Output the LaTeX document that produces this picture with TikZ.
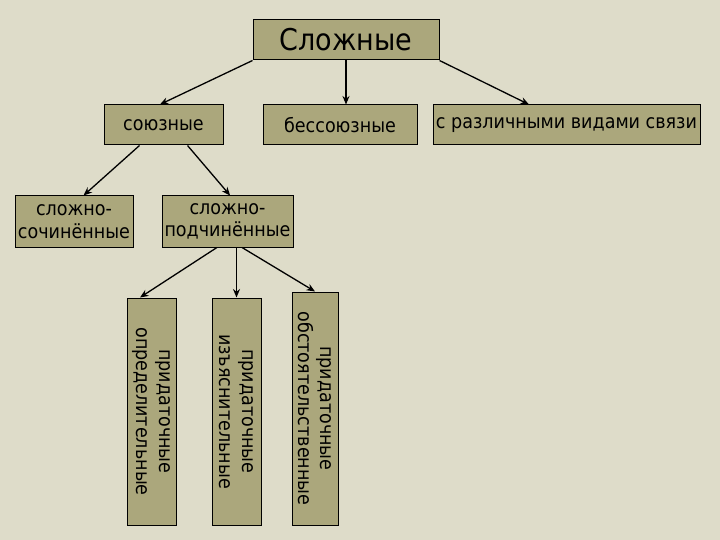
\documentclass[tikz,border=0pt]{standalone}
\usepackage{fontspec}
\setmainfont{DejaVu Sans Condensed}
\usetikzlibrary{arrows.meta,calc}
\definecolor{slidebg}{RGB}{222,220,201}
\definecolor{boxfill}{RGB}{171,167,124}

\begin{document}
\begin{tikzpicture}[x=1pt,y=-1pt,
  box/.style={draw=black,line width=1pt,fill=boxfill,inner sep=0pt,
    font=\fontsize{19.5}{22.5}\selectfont,align=center},
  vbox/.style={box,rotate=-90},
  arr/.style={line width=1.3pt,-{Stealth[length=8.5pt,width=7pt]}}]
  % background (fixes the page size)
  \fill[slidebg] (0,0) rectangle (720,540);
  \useasboundingbox (0,0) rectangle (720,540);
  % top
  \node[box,minimum width=186,minimum height=40,font=\fontsize{30}{34}\selectfont] (slozh) at (346,40) {Сложные};
  % second row
  \node[box,minimum width=119,minimum height=40] (sojuz) at (163.5,125) {союзные};
  \node[box,minimum width=154,minimum height=40] (bessojuz) at (340,125) {бессоюзные};
  \node[box,minimum width=267,minimum height=40] (razl) at (566.5,125) {с различными видами связи};
  % third row
  \node[box,minimum width=118,minimum height=51] (soch) at (74,221.5) {сложно-\\сочинённые};
  \node[box,minimum width=131,minimum height=51] (podch) at (227.5,221.5) {сложно-\\подчинённые};
  % vertical boxes
  \node[vbox,minimum width=227,minimum height=49] (opred) at (151.5,411.5) {придаточные\\определительные};
  \node[vbox,minimum width=227,minimum height=49] (izjasn) at (236.5,411.5) {придаточные\\изъяснительные};
  \node[vbox,minimum width=233,minimum height=46] (obst) at (315,408.5) {придаточные\\обстоятельственные};
  % arrows
  \draw[arr] (slozh.south west) -- ($(sojuz.north west)!0.47!(sojuz.north east)$);
  \draw[arr] (slozh.south) -- (slozh.south |- bessojuz.north);
  \draw[arr] (slozh.south east) -- ($(razl.north west)!0.36!(razl.north east)$);
  \draw[arr] ($(sojuz.south west)!0.3!(sojuz.south east)$) -- ($(soch.north west)!0.58!(soch.north east)$);
  \draw[arr] ($(sojuz.south west)!0.7!(sojuz.south east)$) -- ($(podch.north west)!0.52!(podch.north east)$);
  \draw[arr] ($(podch.south west)!0.42!(podch.south east)$) -- ($(opred.south west)!0.27!(opred.north west)$);
  \draw[arr] (izjasn.west |- podch.south) -- (izjasn.west);
  \draw[arr] ($(podch.south west)!0.61!(podch.south east)$) -- (obst.west);
\end{tikzpicture}
\end{document}
